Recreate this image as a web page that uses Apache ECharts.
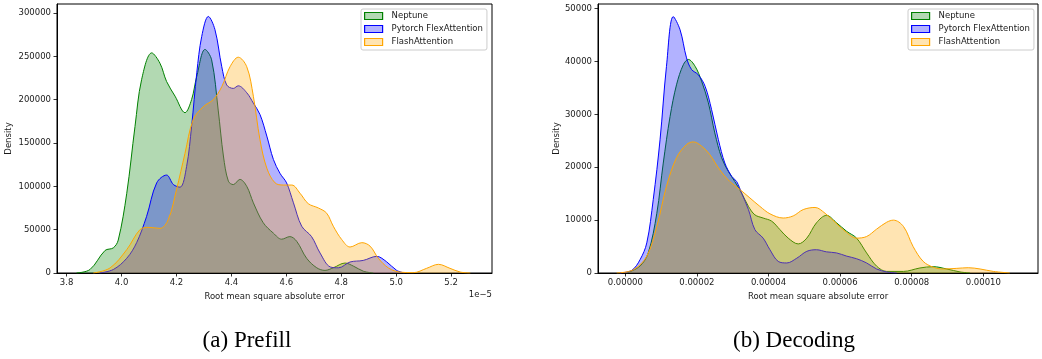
<!DOCTYPE html>
<html>
<head>
<meta charset="utf-8">
<script src="https://cdn.jsdelivr.net/npm/echarts@6/dist/echarts.min.js"></script>
<style>
html,body{margin:0;padding:0;background:#fff;}
#chart{width:1042px;height:359px;}
</style>
</head>
<body>
<div id="chart"></div>
<script>
// ---------- DATA (x in units of 1e-5) ----------
const seriesNames = ['Neptune', 'Pytorch FlexAttention', 'FlashAttention'];
const captions = ['(a) Prefill', '(b) Decoding'];
const xAxisName = 'Root mean square absolute error';
const yAxisName = 'Density';
const offsetText = '1e\u22125';

// Prefill
const prefillXTicks = [3.8, 4.0, 4.2, 4.4, 4.6, 4.8, 5.0, 5.2];
const prefillYTicks = [0, 50000, 100000, 150000, 200000, 250000, 300000];
const prefillNeptuneX = [3.836, 3.885, 3.94, 3.97, 3.988, 4.019, 4.049, 4.073, 4.11, 4.14, 4.164, 4.195, 4.231, 4.255, 4.274, 4.304, 4.328, 4.352, 4.371, 4.389, 4.407, 4.431, 4.456, 4.48, 4.516, 4.553, 4.583, 4.613, 4.638, 4.674, 4.711, 4.741, 4.771, 4.814, 4.844, 4.881, 4.917];
const prefillNeptuneY = [0, 4000, 26000, 29000, 38000, 92000, 169000, 223000, 254000, 242000, 221000, 204000, 185000, 200000, 227000, 258000, 246000, 188000, 135000, 106000, 102000, 108000, 100000, 81000, 58000, 46000, 39000, 42000, 36500, 17000, 6000, 3000, 6000, 11500, 8000, 2000, 0];
const prefillFlexX = [3.92, 3.97, 4.019, 4.055, 4.091, 4.128, 4.164, 4.189, 4.213, 4.237, 4.255, 4.274, 4.292, 4.316, 4.34, 4.365, 4.383, 4.407, 4.425, 4.456, 4.48, 4.504, 4.529, 4.553, 4.577, 4.601, 4.626, 4.656, 4.692, 4.723, 4.76, 4.79, 4.832, 4.88, 4.929, 4.965, 5.002, 5.03];
const prefillFlexY = [0, 4000, 17000, 35000, 65000, 104000, 113000, 102000, 99000, 123000, 169000, 231000, 273000, 296000, 281000, 238000, 217000, 213000, 216000, 208000, 196000, 183000, 158000, 131000, 115000, 104000, 81000, 54000, 42000, 23000, 7000, 6000, 12700, 14500, 19200, 13000, 3000, 0];
const prefillFlashX = [3.897, 3.958, 4.019, 4.067, 4.097, 4.14, 4.17, 4.2, 4.231, 4.261, 4.298, 4.334, 4.365, 4.395, 4.425, 4.456, 4.48, 4.504, 4.529, 4.559, 4.589, 4.62, 4.65, 4.68, 4.717, 4.747, 4.771, 4.802, 4.832, 4.875, 4.905, 4.935, 4.972, 5.014, 5.063, 5.111, 5.154, 5.196, 5.233, 5.27];
const prefillFlashY = [0, 5800, 27000, 50000, 52700, 51500, 61500, 96000, 138000, 177000, 192000, 200000, 215000, 238000, 249000, 238000, 204000, 154000, 121000, 104000, 101500, 101500, 92000, 80000, 75000, 69000, 54000, 38500, 30000, 35000, 31000, 17000, 5800, 1000, 400, 5400, 10000, 5400, 1100, 0];

// Decoding
const decodingXTicks = [0, 2, 4, 6, 8, 10];
const decodingYTicks = [0, 10000, 20000, 30000, 40000, 50000];
const decodingNeptuneX = [0.04, 0.41, 0.64, 0.88, 1.06, 1.25, 1.43, 1.62, 1.76, 1.95, 2.13, 2.32, 2.5, 2.69, 2.88, 3.06, 3.25, 3.44, 3.62, 3.85, 4.09, 4.32, 4.55, 4.83, 5.07, 5.34, 5.62, 5.9, 6.18, 6.46, 6.74, 7.02, 7.3, 7.77, 8.23, 8.6, 8.98, 9.35, 9.63];
const decodingNeptuneY = [0, 1300, 3800, 11300, 20800, 29600, 35600, 39400, 40400, 39100, 36300, 32200, 26500, 21800, 19200, 17300, 15100, 12600, 11000, 10400, 9800, 8200, 6600, 5500, 6600, 9500, 10900, 9500, 7900, 6600, 3800, 1300, 300, 300, 950, 1200, 760, 200, 0];
const decodingFlexX = [-0.15, 0.18, 0.41, 0.6, 0.78, 0.97, 1.15, 1.34, 1.53, 1.71, 1.85, 2.04, 2.23, 2.41, 2.6, 2.78, 2.97, 3.11, 3.25, 3.44, 3.62, 3.85, 4.04, 4.27, 4.51, 4.79, 5.07, 5.34, 5.62, 5.9, 6.18, 6.46, 6.74, 7.02, 7.3, 7.58];
const decodingFlexY = [0, 500, 2500, 5700, 13900, 25200, 39100, 48500, 46000, 40700, 38500, 37500, 35300, 30900, 25200, 20800, 18300, 17300, 15100, 12000, 8200, 6600, 4400, 2200, 1900, 2800, 4100, 4400, 4000, 3800, 3200, 2700, 1900, 760, 200, 0];
const decodingFlashX = [-0.24, 0.22, 0.6, 0.88, 1.15, 1.43, 1.71, 1.9, 2.13, 2.36, 2.64, 2.92, 3.2, 3.48, 3.76, 4.04, 4.41, 4.69, 4.97, 5.3, 5.58, 5.86, 6.14, 6.46, 6.74, 7.02, 7.3, 7.49, 7.77, 8.04, 8.32, 8.6, 8.88, 9.26, 9.58, 9.91, 10.28, 10.74];
const decodingFlashY = [0, 600, 3200, 8800, 16400, 21800, 24300, 24800, 24000, 22400, 19500, 17300, 15800, 14200, 12600, 11200, 10400, 10800, 12000, 12400, 11300, 9600, 7900, 6600, 6900, 8300, 9600, 10000, 8800, 5000, 2200, 1100, 760, 880, 1000, 760, 300, 0];

// ---------- STYLE ----------
const lineColors = ['#008000', '#0000ff', '#ffa500'];
const fillColors = ['rgba(0,128,0,0.3)', 'rgba(0,0,255,0.3)', 'rgba(255,165,0,0.3)'];
const tickFont = 'DejaVu Sans';
const fs = 8.5;

function zip(xs, ys) { return xs.map((x, i) => [x, ys[i]]); }

const panels = [
  { grid: { left: 57, top: 4, width: 435, height: 269 }, xMin: 3.765, xMax: 5.349, yMax: 310400,
    xTicks: prefillXTicks, yTicks: prefillYTicks, xFmt: v => v.toFixed(1),
    data: [zip(prefillNeptuneX, prefillNeptuneY), zip(prefillFlexX, prefillFlexY), zip(prefillFlashX, prefillFlashY)],
    nameGapY: 44, legendLeft: 361 },
  { grid: { left: 598, top: 4, width: 440, height: 269 }, xMin: -0.763, xMax: 11.528, yMax: 50890,
    xTicks: decodingXTicks, yTicks: decodingYTicks, xFmt: v => (v * 1e-5).toFixed(5),
    data: [zip(decodingNeptuneX, decodingNeptuneY), zip(decodingFlexX, decodingFlexY), zip(decodingFlashX, decodingFlashY)],
    nameGapY: 37, legendLeft: 908 }
];

const option = {
  animation: false,
  backgroundColor: '#fff',
  grid: [], xAxis: [], yAxis: [], series: [], legend: [], graphic: []
};

panels.forEach((p, pi) => {
  option.grid.push(Object.assign({ show: true, borderColor: '#000', borderWidth: 1, backgroundColor: 'transparent', containLabel: false }, p.grid));
  option.xAxis.push({
    type: 'value', gridIndex: pi, min: p.xMin, max: p.xMax,
    name: xAxisName, nameLocation: 'middle', nameGap: 17,
    nameTextStyle: { fontFamily: tickFont, fontSize: fs, color: '#1a1a1a' },
    axisLine: { show: true, onZero: false, lineStyle: { color: '#000', width: 1 } },
    axisTick: { show: true, customValues: p.xTicks, length: 3.5, lineStyle: { color: '#000', width: 0.8 } },
    axisLabel: { customValues: p.xTicks, formatter: p.xFmt, margin: 5, fontFamily: tickFont, fontSize: fs, color: '#1a1a1a' },
    splitLine: { show: false }
  });
  option.yAxis.push({
    type: 'value', gridIndex: pi, min: 0, max: p.yMax,
    name: yAxisName, nameLocation: 'middle', nameGap: p.nameGapY,
    nameTextStyle: { fontFamily: tickFont, fontSize: fs, color: '#1a1a1a' },
    axisLine: { show: true, onZero: false, lineStyle: { color: '#000', width: 1 } },
    axisTick: { show: true, customValues: p.yTicks, length: 3.5, lineStyle: { color: '#000', width: 0.8 } },
    axisLabel: { customValues: p.yTicks, formatter: v => String(v), margin: 6, fontFamily: tickFont, fontSize: fs, color: '#1a1a1a' },
    splitLine: { show: false }
  });
  seriesNames.forEach((name, si) => {
    option.series.push({
      type: 'line', name: name, xAxisIndex: pi, yAxisIndex: pi,
      data: p.data[si], smooth: 0.35, symbol: 'none', clip: true,
      lineStyle: { color: lineColors[si], width: 1 },
      itemStyle: { color: lineColors[si] },
      areaStyle: { color: fillColors[si], opacity: 1 },
      z: 2 + si
    });
  });
  option.legend.push({
    left: p.legendLeft, top: 9, orient: 'vertical', icon: 'rect',
    itemWidth: 18, itemHeight: 7, itemGap: 3,
    padding: [2, 4, 3, 3],
    backgroundColor: 'rgba(255,255,255,0.8)', borderColor: '#cccccc', borderWidth: 1, borderRadius: 2,
    textStyle: { fontFamily: tickFont, fontSize: fs, color: '#1a1a1a', lineHeight: 10, padding: [0, 0, 0, 4] },
    selectedMode: false,
    data: seriesNames.map((n, si) => ({ name: n, icon: 'rect', itemStyle: { color: fillColors[si], borderColor: lineColors[si], borderWidth: 1.2 } }))
  });
});

option.graphic = [
  { type: 'text', x: 492, y: 295, style: { text: offsetText, textAlign: 'right', textVerticalAlign: 'middle', font: fs + 'px "DejaVu Sans"', fill: '#1a1a1a' } },
  { type: 'text', x: 247, y: 341, style: { text: captions[0], textAlign: 'center', textVerticalAlign: 'middle', font: '23px "Liberation Serif"', fill: '#000' } },
  { type: 'text', x: 794, y: 341, style: { text: captions[1], textAlign: 'center', textVerticalAlign: 'middle', font: '23px "Liberation Serif"', fill: '#000' } }
];

const chart = echarts.init(document.getElementById('chart'), null, { renderer: 'canvas' });
chart.setOption(option);
</script>
</body>
</html>
